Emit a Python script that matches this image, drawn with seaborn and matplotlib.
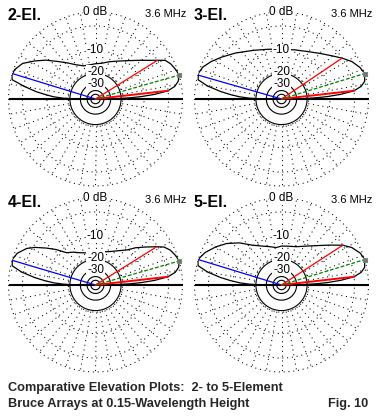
import numpy as np
import matplotlib
matplotlib.use('Agg')
import matplotlib.pyplot as plt
from matplotlib import font_manager as fm
import seaborn as sns

sns.set_theme(style='white')
plt.rcParams['font.family'] = ['Liberation Sans', 'DejaVu Sans']

# ---------------- data ----------------
titles = ['2-El.', '3-El.', '4-El.', '5-El.']
freq_label = '3.6 MHz'

ang_2el = [0, 1, 2, 3, 4.5, 6.5, 9, 12, 16, 20, 25, 29, 32, 36, 42, 50, 60, 70, 80, 90, 100, 110, 120, 128, 135, 142, 148, 154, 160, 164, 167, 170, 173, 175, 177, 178.5, 179.5, 180]
db_2el = [-50, -25, -16, -11, -6.5, -3, -1.4, -0.5, 0, -0.3, -0.8, -1.5, -3, -4.8, -7, -9.5, -11.8, -13.5, -15, -15.5, -15.8, -15.5, -13.5, -11, -8.5, -5.5, -3.3, -1.2, -0.2, 0, -0.3, -3.2, -6.5, -9.5, -12.5, -17, -25, -50]

ang_3el = [0, 1, 2, 3, 4.5, 6.5, 9, 12, 17, 22, 28, 34, 40, 50, 60, 75, 90, 105, 120, 135, 145, 152, 158, 163, 167, 170, 173, 175, 177, 178.5, 179.5, 180]
db_3el = [-50, -25, -16, -11, -6.5, -3, -1.3, -0.4, 0, -0.5, -1.5, -3, -4.5, -6.5, -8, -9.2, -9.6, -9.0, -7.5, -5, -3, -1.5, -0.4, 0, -0.3, -2.5, -6, -9, -12.5, -17, -25, -50]

ang_4el = [0, 1, 2, 3, 4.5, 6.5, 9, 12, 16, 20, 25, 29, 32, 37, 43, 48, 57, 67, 80, 90, 105, 116, 124, 132, 138, 143, 148, 152, 158, 163, 167, 170, 173, 175, 177, 178.5, 179.5, 180]
db_4el = [-50, -25, -16, -11, -6.5, -3, -1.3, -0.4, 0, -0.3, -0.9, -1.8, -3.2, -5.5, -8, -10.5, -13, -15, -16.3, -16.6, -16.5, -15.2, -13.5, -11.9, -8.5, -6, -3.5, -1.9, -0.5, 0, -0.3, -2.5, -6, -9, -12.5, -17, -25, -50]

ang_5el = [0, 1, 2, 3, 4.5, 6.5, 9, 12, 17, 22, 28, 33, 40, 48, 58, 69, 80, 90, 98, 107, 117, 126, 135, 143, 150, 157, 162, 164, 167, 170, 173, 175, 177, 178.5, 179.5, 180]
db_5el = [-50, -25, -16, -11, -6.5, -3, -1.3, -0.4, 0, -0.4, -1.5, -3, -5.8, -8.5, -11, -12.9, -13.6, -13.8, -14.3, -13.3, -11.8, -9.8, -6.5, -4, -2.3, -0.8, -0.1, 0, -0.3, -2.5, -6, -9, -12.5, -17, -25, -50]

pattern_angles = [ang_2el, ang_3el, ang_4el, ang_5el]
pattern_db = [db_2el, db_3el, db_4el, db_5el]

max_angle = [16, 17, 16, 17]         # green line / marker
back_angle = [163, 164, 163.5, 163]  # blue line
bw_low = [6.5, 6.5, 6.5, 6.5]        # red lines (-3 dB points)
bw_high = [32, 34, 32, 33]

ring_dotted_db = [0, -3, -10, -20]
ring_solid_db = [-21, -30, -40, -50]
ring_label_db = [0, -10, -20, -30]
ring_labels = ['0 dB', '-10', '-20', '-30']
spoke_angles = list(range(0, 360, 10))

caption1 = 'Comparative Elevation Plots:  2- to 5-Element'
caption2 = 'Bruce Arrays at 0.15-Wavelength Height'
fig_label = 'Fig. 10'


def arrl(db):
    return 0.89 ** (-np.asarray(db, dtype=float) / 2.0)


W, H = 376, 420
fig = plt.figure(figsize=(W / 100, H / 100), dpi=100)
fig.patch.set_facecolor('white')

R = 87
centers = [(95.5, 99), (281.5, 99), (95.5, 285), (281.5, 285)]
dot = (0, (1, 3.6))
full = np.linspace(0, 2 * np.pi, 721)

for i, (cx, cy) in enumerate(centers):
    ax = fig.add_axes([(cx - R) / W, 1 - (cy + R) / H, 2 * R / W, 2 * R / H],
                      projection='polar')
    ax.set_ylim(0, 1)
    ax.set_xticks([])
    ax.set_yticks([])
    ax.grid(False)
    ax.spines['polar'].set_visible(False)
    ax.set_facecolor('none')

    for d in ring_dotted_db:
        ax.plot(full, np.full_like(full, arrl(d)), color='black', lw=0.75,
                ls=dot, clip_on=False, zorder=1)
    r0 = arrl(-20)
    for a in spoke_angles:
        t = np.deg2rad(a)
        ax.plot([t, t], [r0, 1.0], color='black', lw=0.75, ls=dot,
                clip_on=False, zorder=1)
    for d in ring_solid_db:
        ax.plot(full, np.full_like(full, arrl(d)), color='black', lw=0.8,
                clip_on=False, zorder=2)
    for t in (0.0, np.pi):
        ax.plot([t, t], [0, 1.0], color='black', lw=1.5, clip_on=False,
                zorder=2, solid_capstyle='butt')

    th = np.deg2rad(pattern_angles[i])
    rr = arrl(pattern_db[i])
    sns.lineplot(x=th, y=rr, ax=ax, sort=False, estimator=None,
                 color='black', lw=0.9, zorder=3)
    ax.set_xlabel('')
    ax.set_ylabel('')

    def r_at(a):
        return float(arrl(np.interp(a, pattern_angles[i], pattern_db[i])))

    tb = np.deg2rad(back_angle[i])
    ax.plot([tb, tb], [0, r_at(back_angle[i])], color='#0000ff', lw=0.9,
            zorder=4, clip_on=False)
    tl = np.deg2rad(bw_high[i])
    ax.plot([tl, tl], [0, r_at(bw_high[i])], color='#ff0000', lw=0.9,
            zorder=4, clip_on=False)
    tl = np.deg2rad(bw_low[i])
    ax.plot([tl, tl], [0, r_at(bw_low[i])], color='#ff0000', lw=1.4,
            zorder=4, clip_on=False)
    tm = np.deg2rad(max_angle[i])
    rm = r_at(max_angle[i])
    ax.plot([tm, tm], [0, rm], color='#008000', lw=0.9, ls=(0, (3, 1.5)),
            zorder=4, clip_on=False)
    ax.plot([tm], [rm], marker='s', ms=3.5, mfc='#cc33cc', mec='#44aa44',
            mew=0.8, zorder=5, clip_on=False)

    for d, lab in zip(ring_label_db, ring_labels):
        ax.text(np.pi / 2, arrl(d), lab, ha='center', va='center',
                fontsize=8.5, color='black', zorder=6,
                bbox=dict(boxstyle='square,pad=0.05', fc='white', ec='none'))

    fig.text((cx - 87.5) / W, 1 - (cy - 83) / H, titles[i], ha='left',
             va='center', fontsize=11.5, fontweight='bold', color='black')
    fig.text((cx + 91) / W, 1 - (cy - 85) / H, freq_label, ha='right',
             va='center', fontsize=8, color='black')

cap_prop = fm.FontProperties(family=['Liberation Sans', 'DejaVu Sans'],
                             weight='bold')
t1 = fig.text(8 / W, 1 - 388 / H, caption1, ha='left', va='center',
              fontproperties=cap_prop, fontsize=10.5)
fig.canvas.draw()
bb = t1.get_window_extent(renderer=fig.canvas.get_renderer())
size = 10.5 * 277.0 / bb.width
t1.set_fontsize(size)
fig.text(8 / W, 1 - 404 / H, caption2, ha='left', va='center',
         fontproperties=cap_prop, fontsize=size)
fig.text(328 / W, 1 - 404 / H, fig_label, ha='left', va='center',
         fontproperties=cap_prop, fontsize=size)

fig.savefig('out.png', dpi=100, facecolor='white')
